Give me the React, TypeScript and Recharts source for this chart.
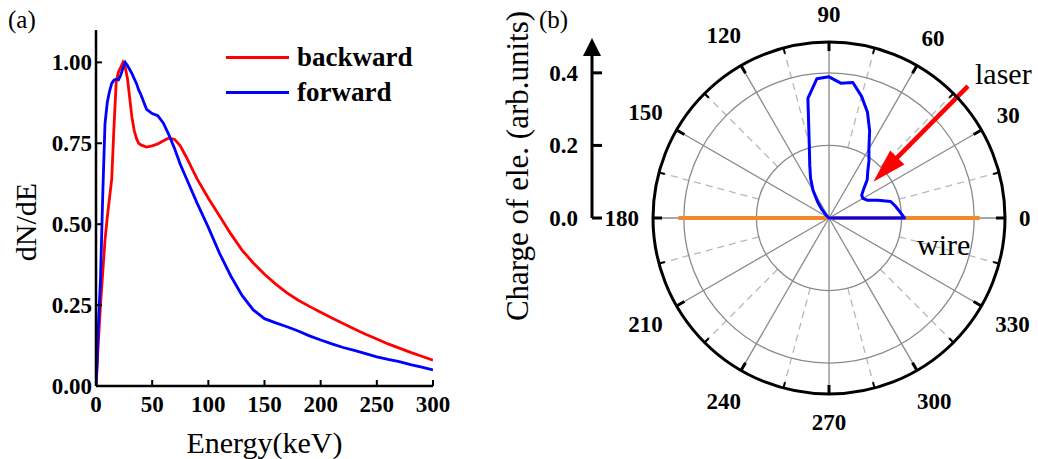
import {
  LineChart,
  Line,
  XAxis,
  YAxis,
  Legend,
  Label,
  RadarChart,
  Radar,
  PolarGrid,
  PolarAngleAxis,
  PolarRadiusAxis,
} from "recharts";

const SERIF = '"Liberation Serif", "Times New Roman", serif';

// ---- (a) energy spectra ----
const ENERGY = [
  0, 1, 2, 4, 6, 8, 10, 12, 14, 16, 18, 20, 22, 24, 26, 28, 30, 32, 34, 36, 38, 40,
  45, 50, 55, 60, 65, 70, 75, 80,
  90, 100, 110, 120, 130, 140, 150, 160, 170, 180, 190, 200, 210, 220, 230, 240, 250,
  260, 270, 280, 290, 300,
];
const BACKWARD = [
  0, 0.06, 0.13, 0.25, 0.35, 0.45, 0.52, 0.58, 0.64, 0.8, 0.94, 0.97, 0.985, 1.0, 0.985,
  0.95, 0.89, 0.83, 0.79, 0.765, 0.75, 0.745,
  0.738, 0.742, 0.748, 0.758, 0.766, 0.762, 0.742, 0.71,
  0.64, 0.58, 0.525, 0.47, 0.42, 0.38, 0.345, 0.315, 0.288, 0.265, 0.246, 0.228, 0.21,
  0.193, 0.176, 0.16, 0.145, 0.13, 0.117, 0.104, 0.092, 0.08,
];
const FORWARD = [
  0, 0.08, 0.18, 0.33, 0.59, 0.81, 0.875, 0.91, 0.935, 0.945, 0.948, 0.946, 0.96, 0.982,
  1.0, 0.99, 0.978, 0.965, 0.95, 0.935, 0.915, 0.9,
  0.855, 0.842, 0.835, 0.812, 0.775, 0.733, 0.685, 0.645,
  0.565, 0.49, 0.41, 0.34, 0.28, 0.235, 0.208, 0.195, 0.183, 0.17, 0.155, 0.142, 0.13,
  0.119, 0.11, 0.1, 0.09, 0.082, 0.075, 0.066, 0.058, 0.05,
];
const ENERGY_TICKS = [0, 50, 100, 150, 200, 250, 300];
const DENSITY_TICKS = [0, 0.25, 0.5, 0.75, 1.0];

// ---- (b) angular charge distribution ----
const ANGLES = [
  0, 5, 10, 15, 20, 25, 30, 35, 40, 45, 50, 55,
  60, 65, 70, 75, 80, 85, 90, 95, 100, 105, 110, 115,
  120, 125, 130, 135, 140, 145, 150, 155, 160, 165, 170, 175,
  180, 185, 190, 195, 200, 205, 210, 215, 220, 225, 230, 235,
  240, 245, 250, 255, 260, 265, 270, 275, 280, 285, 290, 295,
  300, 305, 310, 315, 320, 325, 330, 335, 340, 345, 350, 355,
];
const CHARGE = [
  0.208, 0.196, 0.186, 0.176, 0.143, 0.116, 0.108, 0.11, 0.125, 0.149, 0.166, 0.192,
  0.22, 0.265, 0.31, 0.347, 0.379, 0.373, 0.389, 0.385, 0.335, 0.21, 0.155, 0.12,
  0.088, 0.055, 0.03, 0.012, 0.004, 0, 0, 0, 0, 0, 0, 0,
  0, 0, 0, 0, 0, 0, 0, 0, 0, 0, 0, 0,
  0, 0, 0, 0, 0, 0, 0, 0, 0, 0, 0, 0,
  0, 0, 0, 0, 0, 0, 0, 0, 0, 0, 0, 0,
];
const WIRE = [
  0.415, 0, 0, 0, 0, 0, 0, 0, 0, 0, 0, 0,
  0, 0, 0, 0, 0, 0, 0, 0, 0, 0, 0, 0,
  0, 0, 0, 0, 0, 0, 0, 0, 0, 0, 0, 0,
  0.415, 0, 0, 0, 0, 0, 0, 0, 0, 0, 0, 0,
  0, 0, 0, 0, 0, 0, 0, 0, 0, 0, 0, 0,
  0, 0, 0, 0, 0, 0, 0, 0, 0, 0, 0, 0,
];
const CHARGE_TICKS = [0, 0.2, 0.4];
const RING_VALUES = [0.2, 0.4];
const SOLID_SPOKES = [0, 30, 60, 90, 120, 150, 180, 210, 240, 270, 300, 330];
const DASHED_SPOKES = [15, 45, 75, 105, 135, 165, 195, 225, 255, 285, 315, 345];
const R_MAX = 0.485;
// laser arrow: [angle, value] of tip and tail
const LASER_TIP = [39.3, 0.158];
const LASER_TAIL = [43.5, 0.528];

const spectrum = ENERGY.map((e, i) => ({ e, backward: BACKWARD[i], forward: FORWARD[i] }));
const polarData = ANGLES.map((angle, i) => ({ angle, charge: CHARGE[i], wire: WIRE[i] }));

const TICK_FONT = { fontFamily: SERIF, fontWeight: 700, fontSize: 23, fill: "#000" };
const TITLE_FONT = { fontFamily: SERIF, fontSize: 30, fill: "#000" };

const X_MARGIN = 9;
const Y_MARGIN = 4;
const C_MARGIN = 14;
const IN_TICK = 6;

// polar geometry (inside the radar svg)
const CX = 229;
const CY = 218;
const OUTER = 176;
// the radar puts category i half a band past the range start, so start half a band early
const ANGLE_STEP = 5;
const toPx = (v: number) => (v / R_MAX) * OUTER;
const polarXY = (deg: number, v: number) => {
  const a = (deg * Math.PI) / 180;
  return [CX + toPx(v) * Math.cos(a), CY - toPx(v) * Math.sin(a)];
};

function EnergyTick({ x, y, payload }: any) {
  return (
    <g>
      <line x1={x} x2={x} y1={y - X_MARGIN} y2={y - X_MARGIN - IN_TICK} stroke="#000" strokeWidth={2} />
      <text x={x} y={y} dy={17} textAnchor="middle" style={TICK_FONT}>
        {payload.value}
      </text>
    </g>
  );
}

function DensityTick({ x, y, payload }: any) {
  return (
    <g>
      <line x1={x + Y_MARGIN} x2={x + Y_MARGIN + IN_TICK} y1={y} y2={y} stroke="#000" strokeWidth={2} />
      <text x={x} y={y} dy={8} textAnchor="end" style={TICK_FONT}>
        {Number(payload.value).toFixed(2)}
      </text>
    </g>
  );
}

function ChargeTick({ x, y, payload }: any) {
  return (
    <g>
      <line x1={x + C_MARGIN} x2={x + C_MARGIN + 10} y1={y} y2={y} stroke="#000" strokeWidth={3} />
      <text x={x} y={y} dy={8} textAnchor="end" style={TICK_FONT}>
        {Number(payload.value).toFixed(1)}
      </text>
    </g>
  );
}

function AngleTick(props: any) {
  const { payload } = props;
  const deg = Number(payload.value);
  if (deg % 15 !== 0) return null;
  const cx = props.cx ?? CX;
  const cy = props.cy ?? CY;
  const radius = props.radius ?? OUTER;
  const a = (deg * Math.PI) / 180;
  const cos = Math.cos(a);
  const sin = Math.sin(a);
  const major = deg % 30 === 0;
  const len = major ? 9 : 6;
  const tick = (
    <line
      x1={cx + radius * cos}
      y1={cy - radius * sin}
      x2={cx + (radius - len) * cos}
      y2={cy - (radius - len) * sin}
      stroke="#000"
      strokeWidth={major ? 3 : 2}
    />
  );
  if (!major) return tick;
  const text = String(deg);
  const r = radius + 14 + text.length * 5.75 * Math.abs(cos) + 14 * Math.abs(sin);
  return (
    <g>
      {tick}
      <text x={cx + r * cos} y={cy - r * sin} dy={8} textAnchor="middle" style={TICK_FONT}>
        {text}
      </text>
    </g>
  );
}

function SpectrumLegend({ payload }: any) {
  return (
    <div>
      {(payload || []).map((item: any) => (
        <div key={item.value} style={{ display: "flex", alignItems: "center", height: 35 }}>
          <span
            style={{ display: "inline-block", width: 63, height: 3, background: item.color, marginRight: 8 }}
          />
          <span style={{ fontFamily: SERIF, fontWeight: 700, fontSize: 27, lineHeight: "35px", color: "#000" }}>
            {item.value}
          </span>
        </div>
      ))}
    </div>
  );
}

function LaserMark() {
  const [tx, ty] = polarXY(LASER_TIP[0], LASER_TIP[1]);
  const [sx, sy] = polarXY(LASER_TAIL[0], LASER_TAIL[1]);
  const len = Math.hypot(tx - sx, ty - sy);
  const ux = (tx - sx) / len;
  const uy = (ty - sy) / len;
  const bx = tx - ux * 34;
  const by = ty - uy * 34;
  const head = `${tx},${ty} ${bx - uy * 10},${by + ux * 10} ${bx + uy * 10},${by - ux * 10}`;
  return (
    <g>
      <line x1={sx} y1={sy} x2={bx + ux * 2} y2={by + uy * 2} stroke="#ff0000" strokeWidth={4.5} />
      <polygon points={head} fill="#ff0000" />
      <text x={375} y={84} style={TITLE_FONT}>laser</text>
      <text x={317} y={255} style={TITLE_FONT}>wire</text>
    </g>
  );
}

const frame = { stroke: "#000", strokeWidth: 2.5 };

export default function App() {
  return (
    <div style={{ position: "absolute", left: 0, top: 0, width: 1038, height: 459, background: "#fff" }}>
      <svg width={0} height={0} style={{ position: "absolute" }}>
        <defs>
          <marker
            id="charge-arrow"
            markerUnits="userSpaceOnUse"
            markerWidth={18}
            markerHeight={18}
            viewBox="0 0 18 18"
            refX={14}
            refY={9}
            orient="auto-start-reverse"
          >
            <path d="M0,0 L18,9 L0,18 Z" fill="#000" />
          </marker>
        </defs>
      </svg>

      {/* (a) */}
      <div style={{ position: "absolute", left: 0, top: 0 }}>
        <LineChart width={460} height={459} data={spectrum} margin={{ top: 30, right: 27, bottom: 3, left: 26 }}>
          <XAxis
            dataKey="e"
            type="number"
            domain={[0, 300]}
            ticks={ENERGY_TICKS}
            height={70}
            tickSize={0}
            tickMargin={X_MARGIN}
            tickLine={false}
            tick={EnergyTick}
            axisLine={frame}
            allowDataOverflow
          >
            <Label
              content={({ viewBox }: any) => (
                <text x={viewBox.x + viewBox.width / 2} y={viewBox.y + 67} textAnchor="middle" style={TITLE_FONT}>
                  Energy(keV)
                </text>
              )}
            />
          </XAxis>
          <XAxis
            xAxisId="top"
            orientation="top"
            type="number"
            domain={[0, 300]}
            height={0}
            tick={false}
            tickLine={false}
            axisLine={frame}
            allowDataOverflow
          />
          <YAxis
            type="number"
            domain={[0, 1.1]}
            ticks={DENSITY_TICKS}
            width={70}
            tickSize={0}
            tickMargin={Y_MARGIN}
            tickLine={false}
            tick={DensityTick}
            axisLine={frame}
            allowDataOverflow
          >
            <Label
              content={({ viewBox }: any) => {
                const x = viewBox.x + 10;
                const y = viewBox.y + viewBox.height / 2 + 14;
                return (
                  <g>
                    <text x={x} y={y} textAnchor="middle" transform={`rotate(-90 ${x} ${y})`} style={TITLE_FONT}>
                      dN/dE
                    </text>
                    <text x={8} y={28} style={{ fontFamily: SERIF, fontSize: 25, fill: "#000" }}>
                      (a)
                    </text>
                  </g>
                );
              }}
            />
          </YAxis>
          <YAxis
            yAxisId="right"
            orientation="right"
            type="number"
            domain={[0, 1.1]}
            width={0}
            tick={false}
            tickLine={false}
            axisLine={frame}
            allowDataOverflow
          />
          <Legend
            layout="vertical"
            align="center"
            verticalAlign="middle"
            content={SpectrumLegend}
            wrapperStyle={{ left: 226, top: 40, width: 200 }}
          />
          <Line
            type="linear"
            dataKey="backward"
            name="backward"
            stroke="#ff0000"
            strokeWidth={2.8}
            dot={false}
            isAnimationActive={false}
          />
          <Line
            type="linear"
            dataKey="forward"
            name="forward"
            stroke="#0000ff"
            strokeWidth={2.8}
            dot={false}
            isAnimationActive={false}
          />
        </LineChart>
      </div>

      {/* (b) radial value axis */}
      <div style={{ position: "absolute", left: 490, top: 0 }}>
        <LineChart
          width={130}
          height={459}
          data={[{ k: 0 }, { k: 1 }]}
          margin={{ top: 42, right: 0, bottom: 241, left: 0 }}
        >
          <XAxis dataKey="k" hide />
          <YAxis
            type="number"
            domain={[0, R_MAX]}
            ticks={CHARGE_TICKS}
            width={102}
            tickSize={0}
            tickMargin={C_MARGIN}
            tickLine={false}
            tick={ChargeTick}
            axisLine={{ stroke: "#000", strokeWidth: 3, markerStart: "url(#charge-arrow)" }}
            allowDataOverflow
          >
            <Label
              content={({ viewBox }: any) => {
                const x = viewBox.x + 38;
                const y = viewBox.y + 124;
                return (
                  <g>
                    <text
                      x={x}
                      y={y}
                      textAnchor="middle"
                      transform={`rotate(-90 ${x} ${y})`}
                      style={{ ...TITLE_FONT, fontSize: 31 }}
                    >
                      Charge of ele. (arb.units)
                    </text>
                    <text x={49} y={28} style={{ fontFamily: SERIF, fontSize: 25, fill: "#000" }}>
                      (b)
                    </text>
                  </g>
                );
              }}
            />
          </YAxis>
        </LineChart>
      </div>

      {/* (b) dashed spokes, starting at the first ring */}
      <div style={{ position: "absolute", left: 600, top: 0 }}>
        <RadarChart
          width={438}
          height={459}
          cx={CX}
          cy={CY}
          innerRadius={toPx(RING_VALUES[0])}
          outerRadius={OUTER}
          startAngle={-ANGLE_STEP}
          endAngle={360 - ANGLE_STEP}
          data={polarData}
          margin={{ top: 0, right: 0, bottom: 0, left: 0 }}
        >
          <PolarGrid
            gridType="circle"
            polarAngles={DASHED_SPOKES}
            polarRadius={[]}
            stroke="#b8b8b8"
            strokeWidth={1.3}
            strokeDasharray="7 5"
          />
        </RadarChart>
      </div>

      {/* (b) polar plot */}
      <div style={{ position: "absolute", left: 600, top: 0 }}>
        <RadarChart
          width={438}
          height={459}
          cx={CX}
          cy={CY}
          outerRadius={OUTER}
          startAngle={-ANGLE_STEP}
          endAngle={360 - ANGLE_STEP}
          data={polarData}
          margin={{ top: 0, right: 0, bottom: 0, left: 0 }}
        >
          <PolarGrid
            gridType="circle"
            polarAngles={SOLID_SPOKES}
            polarRadius={RING_VALUES.map(toPx)}
            stroke="#8a8a8a"
            strokeWidth={1.3}
          />
          <PolarRadiusAxis type="number" domain={[0, R_MAX]} tick={false} axisLine={false} allowDataOverflow />
          <PolarAngleAxis
            dataKey="angle"
            axisLineType="circle"
            axisLine={{ stroke: "#000", strokeWidth: 3 }}
            stroke="#000"
            tickLine={false}
            tick={AngleTick}
          />
          <Radar
            dataKey="wire"
            stroke="#ef8b2c"
            strokeWidth={4}
            strokeLinejoin="bevel"
            fill="none"
            isAnimationActive={false}
          />
          <Radar
            dataKey="charge"
            stroke="#0000ff"
            strokeWidth={3}
            strokeLinejoin="round"
            fill="none"
            isAnimationActive={false}
          />
          <LaserMark />
        </RadarChart>
      </div>
    </div>
  );
}
